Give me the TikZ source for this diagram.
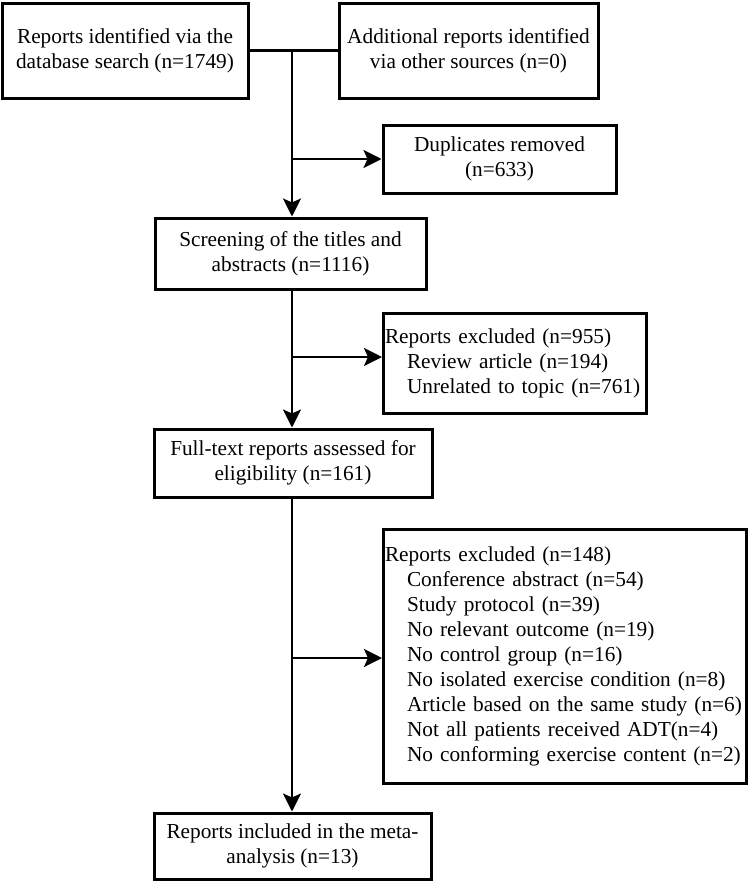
\documentclass[tikz,border=0pt]{standalone}
\usepackage{fontspec}
\setmainfont{Liberation Serif}
\usetikzlibrary{arrows.meta,calc}

\begin{document}
\begin{tikzpicture}[x=1pt,y=-1pt,
    box/.style={draw,line width=3pt,align=center,inner sep=3pt,font=\fontsize{21.3}{25}\selectfont},
    listbox/.style={box,align=left,inner xsep=1.5pt},
    link/.style={line width=2.6pt},
    arr/.style={link,-{Stealth[length=18pt,width=18pt,inset=4pt]}}]
    \useasboundingbox (0,0) rectangle (750,884);
    \node[box,minimum width=246pt,minimum height=95pt] (ident) at (125,50.5) {Reports identified via the\\database search (n=1749)};
    \node[box,minimum width=259pt,minimum height=95pt] (other) at (468.5,50.5) {Additional reports identified\\via other sources (n=0)};
    \node[box,minimum width=233pt,minimum height=68pt] (dup) at (499.5,159) {Duplicates removed\\(n=633)};
    \node[box,minimum width=271pt,minimum height=71pt] (scr) at (290.5,253.5) {Screening of the titles and\\abstracts (n=1116)};
    \node[listbox,minimum height=100pt,text width=260pt] (excl1) at (515,363) {Reports excluded (n=955)\\
        \hspace*{22pt}Review article (n=194)\\
        \hspace*{22pt}Unrelated to topic (n=761)};
    \node[box,minimum width=278pt,minimum height=68pt] (full) at (293,463) {Full-text reports assessed for\\eligibility (n=161)};
    \node[listbox,minimum height=254pt,text width=360pt] (excl2) at (565,656) {Reports excluded (n=148)\\
        \hspace*{22pt}Conference abstract (n=54)\\
        \hspace*{22pt}Study protocol (n=39)\\
        \hspace*{22pt}No relevant outcome (n=19)\\
        \hspace*{22pt}No control group (n=16)\\
        \hspace*{22pt}No isolated exercise condition (n=8)\\
        \hspace*{22pt}\mbox{Article based on the same study (n=6)}\\
        \hspace*{22pt}Not all patients received ADT(n=4)\\
        \hspace*{22pt}No conforming exercise content (n=2)};
    \node[box,minimum width=277pt,minimum height=66pt] (incl) at (292.5,846) {Reports included in the meta-\\analysis (n=13)};
    \coordinate (s0) at (292,50.5);
    \coordinate (b1) at (292,357);
    \coordinate (b2) at (292,658);
    \draw[link] (ident.east) -- (other.west);
    \draw[arr] (s0) -- (s0 |- scr.north);
    \draw[arr] (s0 |- dup.west) -- (dup.west);
    \draw[arr] (scr.south -| s0) -- (full.north -| s0);
    \draw[arr] (b1) -- (b1 -| excl1.west);
    \draw[arr] (full.south -| s0) -- (incl.north -| s0);
    \draw[arr] (b2) -- (b2 -| excl2.west);
\end{tikzpicture}
\end{document}
